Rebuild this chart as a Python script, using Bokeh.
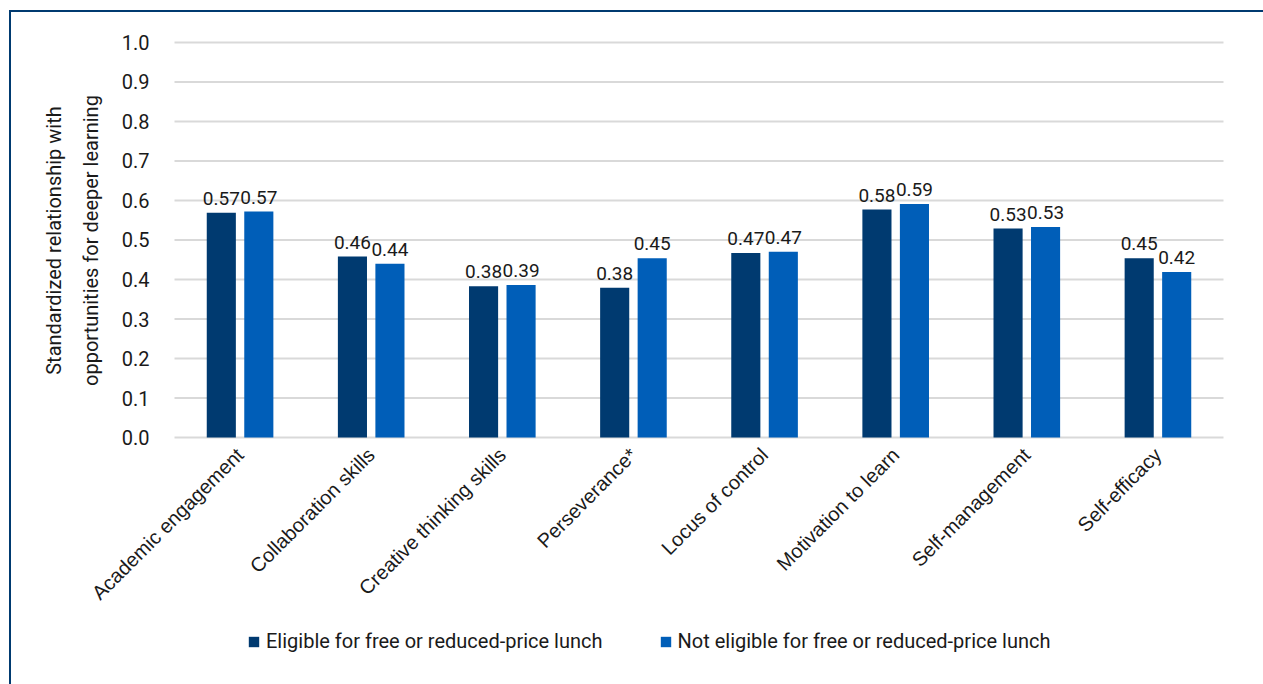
import math
from bokeh.plotting import figure
from bokeh.models import (ColumnDataSource, FixedTicker, PrintfTickFormatter, Legend, LegendItem,
                          LabelSet, Label, Range1d)
from bokeh.core.properties import value
from bokeh.transform import dodge
from bokeh.embed import file_html
from bokeh.resources import INLINE

categories = ["Academic engagement", "Collaboration skills", "Creative thinking skills",
              "Perseverance*", "Locus of control", "Motivation to learn",
              "Self-management", "Self-efficacy"]
eligible = [0.569, 0.458, 0.383, 0.379, 0.467, 0.577, 0.529, 0.454]
not_eligible = [0.572, 0.440, 0.386, 0.454, 0.470, 0.591, 0.533, 0.419]
series_names = ["Eligible for free or reduced-price lunch",
                "Not eligible for free or reduced-price lunch"]
y_ticks = [0.0, 0.1, 0.2, 0.3, 0.4, 0.5, 0.6, 0.7, 0.8, 0.9, 1.0]
y_title = "Standardized relationship with\nopportunities for deeper learning"

DARK = "#003A70"
LIGHT = "#005EB8"
NARROW = "Roboto"
TEXT = "#1a1a1a"
GRID = "#D9D9D9"

n_cat = len(categories)
xc = [i + 0.5 for i in range(n_cat)]  # category centres on the x scale

src = ColumnDataSource(dict(
    x=xc,
    e=eligible,
    n=not_eligible,
    el=["%.2f" % v for v in eligible],
    nl=["%.2f" % v for v in not_eligible],
))
grid_src = ColumnDataSource(dict(y=y_ticks, x0=[0] * len(y_ticks), x1=[n_cat] * len(y_ticks)))

# The frame spans the whole visible area; the axes are pinned inside it.
p = figure(x_range=Range1d(-1.0143, 8.22116), y_range=Range1d(-0.625316, 1.075949),
           frame_width=1211, frame_height=672, output_backend="svg", toolbar_location=None,
           min_border_left=30, min_border_top=0, min_border_right=13, min_border_bottom=0)
p.outline_line_color = None
p.margin = (10, 0, 0, 9)
p.styles = {"border-style": "solid", "border-color": "#003A70",
            "border-width": "2px 0px 0px 2px"}
p.xgrid.visible = False
p.ygrid.visible = False

p.segment(x0="x0", x1="x1", y0="y", y1="y", source=grid_src, line_color=GRID, line_width=2)

r1 = p.vbar(x=dodge("x", -0.143), top="e", width=0.222, source=src,
            fill_color=DARK, line_color=None)
r2 = p.vbar(x=dodge("x", 0.143), top="n", width=0.222, source=src,
            fill_color=LIGHT, line_color=None)

for col, lab, off in (("e", "el", -0.143), ("n", "nl", 0.143)):
    ls = LabelSet(x=dodge("x", off), y=col, text=lab, source=src,
                  text_align="center", text_baseline="bottom", y_offset=8,
                  text_font=value(NARROW), text_font_size=value("19px"), text_color=TEXT)
    p.add_layout(ls)

# value axis, pinned just left of the first category
p.yaxis.fixed_location = -0.145
p.yaxis.ticker = FixedTicker(ticks=y_ticks)
p.yaxis.formatter = PrintfTickFormatter(format="%.1f")
p.yaxis.axis_line_color = None
p.yaxis.major_tick_line_color = None
p.yaxis.minor_tick_line_color = None
p.yaxis.major_label_text_font = NARROW
p.yaxis.major_label_text_font_size = "20px"
p.yaxis.major_label_text_color = TEXT
p.yaxis.major_label_standoff = 0

p.add_layout(Label(x=-0.778, y=0.4987, text=y_title, angle=math.pi / 2,
                   text_align="center", text_baseline="middle", text_line_height=1.55,
                   text_font=NARROW, text_font_size="20px", text_color=TEXT))

# category axis, pinned at y = 0
p.xaxis.fixed_location = 0
p.xaxis.ticker = FixedTicker(ticks=xc)
p.xaxis.major_label_overrides = {x: c for x, c in zip(xc, categories)}
p.xaxis.axis_line_color = None
p.xaxis.major_tick_line_color = None
p.xaxis.minor_tick_line_color = None
p.xaxis.major_label_orientation = 0.785398
p.xaxis.major_label_text_font = "Liberation Sans"
p.xaxis.major_label_text_font_size = "20px"
p.xaxis.major_label_text_color = TEXT
p.xaxis.major_label_standoff = 8

legend = Legend(items=[LegendItem(label=series_names[0], renderers=[r1]),
                       LegendItem(label=series_names[1], renderers=[r2])],
                orientation="horizontal", location=(206, 31),
                label_text_font=NARROW, label_text_font_size="20px", label_text_color=TEXT,
                glyph_width=13, glyph_height=13, spacing=56, label_standoff=6,
                border_line_color=None, background_fill_alpha=0, margin=0, padding=4)
p.add_layout(legend, "center")

open("out.html", "w").write(file_html(p, INLINE))
